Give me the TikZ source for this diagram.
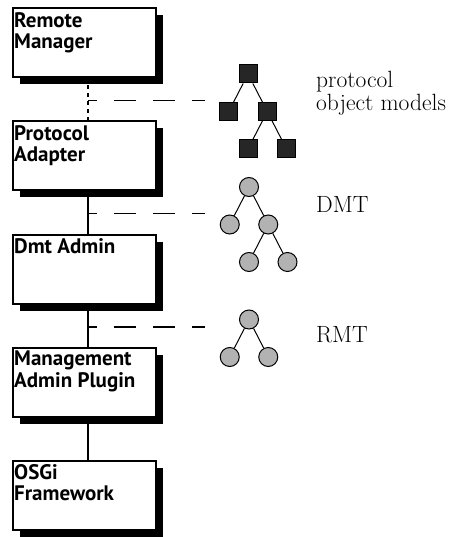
\documentclass[tikz,border=0pt]{standalone}
\usepackage{fontspec}
\newfontfamily\layerfont{PT Sans}
\usetikzlibrary{shadows}

\tikzset{
  layer/.style={rectangle, draw, line width=2pt, fill=white, anchor=north west,
    minimum width=143pt, minimum height=69pt, inner sep=0pt, outer sep=0pt,
    drop shadow={shadow xshift=7pt, shadow yshift=-7pt, fill=black, opacity=1}},
  layername/.style={anchor=north west, align=left, inner sep=0pt,
    font=\layerfont\bfseries\fontsize{21}{21.5}\selectfont},
  objnode/.style={rectangle, draw, fill=black!85, minimum size=18pt, inner sep=0pt, line width=1pt},
  dmtnode/.style={circle, draw, fill=black!30, minimum size=19pt, inner sep=0pt, line width=1pt},
  spine/.style={line width=1.8pt},
  tapline/.style={line width=1.8pt, dash pattern=on 22pt off 17pt, dash phase=13pt},
  treelabel/.style={anchor=base west, align=left, inner sep=0pt,
    font=\fontsize{23.5}{23.3}\selectfont}
}

\begin{document}
\begin{tikzpicture}[x=1pt, y=1pt, level distance=37.5pt, sibling distance=38.5pt,
    edge from parent/.style={draw, line width=1pt}]
  \useasboundingbox (0,0) rectangle (461,-537);

  % the stack
  \node[layer] (rm) at (13,-8.5) {};
  \node[layer] (pa) at (13,-121.5) {};
  \node[layer] (dmt) at (13,-234.5) {};
  \node[layer] (mp) at (13,-347.5) {};
  \node[layer] (osgi) at (13,-460.5) {};

  \node[layername, xshift=1pt, yshift=-3.5pt] at (rm.north west) {Remote\\Manager};
  \node[layername, xshift=1pt, yshift=-3.5pt] at (pa.north west) {Protocol\\Adapter};
  \node[layername, xshift=1pt, yshift=-3.5pt] at (dmt.north west) {Dmt Admin};
  \node[layername, xshift=1pt, yshift=-3.5pt] at (mp.north west) {Management\\Admin Plugin};
  \node[layername, xshift=1pt, yshift=-3.5pt] at (osgi.north west) {OSGi\\Framework};

  \draw[spine, dash pattern=on 4pt off 4pt] ([xshift=3.5pt]rm.south) -- ([xshift=3.5pt]pa.north);
  \draw[spine] ([xshift=3.5pt]pa.south) -- ([xshift=3.5pt]dmt.north);
  \draw[spine] ([xshift=3.5pt]dmt.south) -- ([xshift=3.5pt]mp.north);
  \draw[spine] ([xshift=3.5pt]mp.south) -- ([xshift=3.5pt]osgi.north);

  % models
  \node[objnode] (proot) at (248,-74) {}
    child { node[objnode] (pleft) {}}
    child { node[objnode] (pright) {}
      child { node[objnode] {}}
      child { node[objnode] {}}};
  \node[dmtnode] (droot) at (249,-187) {}
    child { node[dmtnode] (dleft) {}}
    child { node[dmtnode] (dright) {}
      child { node[dmtnode] {}}
      child { node[dmtnode] {}}};
  \node[dmtnode] (rroot) at (249,-319.5) {}
    child { node[dmtnode] (rleft) {}}
    child { node[dmtnode] (rright) {}};

  \coordinate (tap1) at (88,-100.5);
  \coordinate (tap2) at (88,-213.5);
  \coordinate (tap3) at (88,-327);
  \draw[tapline] (tap1) -- (tap1 -| 205,0);
  \draw[tapline] (tap2) -- (tap2 -| 205,0);
  \draw[tapline] (tap3) -- (tap3 -| 205,0);

  \node[treelabel] (ptag) at (316,-110.5) {protocol\\object models};
  \node[treelabel] (dtag) at (316,-212) {DMT};
  \node[treelabel] (rtag) at (316,-342) {RMT};
\end{tikzpicture}
\end{document}
